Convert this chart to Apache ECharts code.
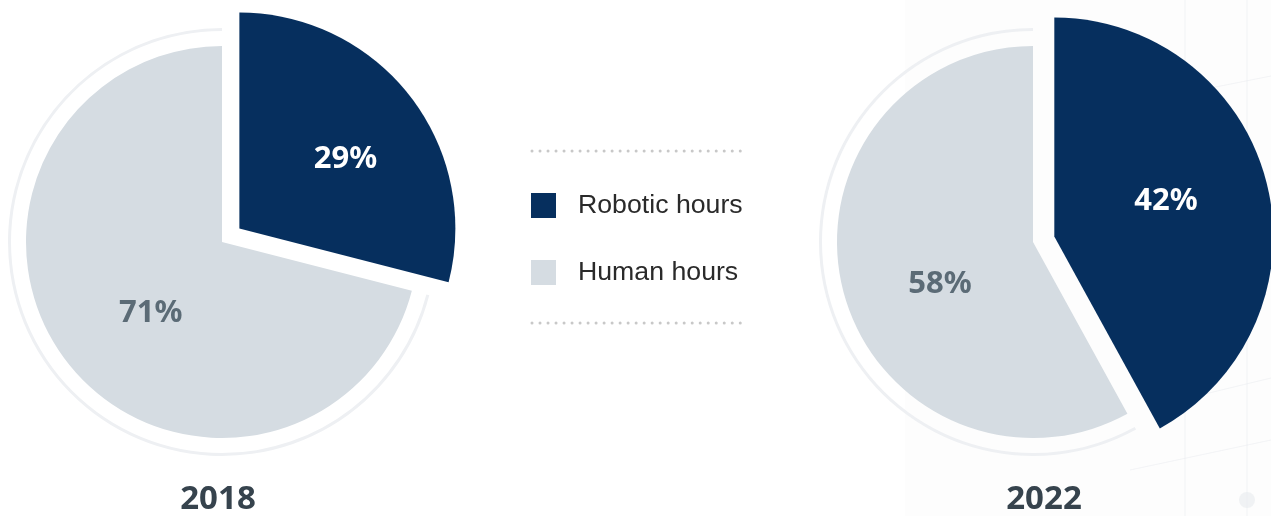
<!DOCTYPE html>
<html>
<head>
<meta charset="utf-8">
<script src="https://cdn.jsdelivr.net/npm/echarts@6/dist/echarts.min.js"></script>
<style>
html,body{margin:0;padding:0;background:#fff;}
#c{width:1271px;height:516px;}
</style>
</head>
<body>
<div id="c"></div>
<script>
const categories = ['Robotic hours', 'Human hours'];
const years = ['2018', '2022'];
const values2018 = [29, 71];
const values2022 = [42, 58];

const DARK = '#062f5e';
const GREY = '#d5dce2';
const RING = '#eef0f3';
const T = 'rgba(0,0,0,0)';
const FONT = '"Noto Sans", "DejaVu Sans", sans-serif';

// geometry per pie: center, dark slice radius, label placement tweaks
function pieSeries(values, center, darkR, lab) {
  const common = {type: 'pie', center: center, startAngle: 90, clockwise: true,
    silent: true, animation: false, avoidLabelOverlap: false,
    emphasis: {disabled: true}, labelLine: {show: false}};
  const items = (colors) => values.map((v, i) => ({name: categories[i], value: v, itemStyle: {color: colors[i]}}));
  function labelSeries(idx, radius, startAngle, color) {
    return Object.assign({}, common, {
      radius: [0, radius], startAngle: startAngle, z: 5,
      label: {show: true, position: 'inside', formatter: '{c}%', fontFamily: FONT,
        fontWeight: 'bold', fontSize: 31, color: color},
      data: values.map((v, i) => ({name: categories[i], value: v, itemStyle: {color: T},
        label: {show: i === idx}}))
    });
  }
  return [
    Object.assign({}, common, {
      radius: [211, 214], z: 1, label: {show: false},
      data: items([T, RING])
    }),
    Object.assign({}, common, {
      radius: [0, 196], z: 2, label: {show: false},
      data: items([T, GREY])
    }),
    Object.assign({}, common, {
      radius: [0, darkR], z: 3,
      selectedMode: 'single', selectedOffset: 22,
      label: {show: false},
      data: values.map((v, i) => ({name: categories[i], value: v, selected: i === 0,
        itemStyle: {color: i === 0 ? DARK : T}}))
    }),
    labelSeries(0, lab.darkR, lab.darkStart, '#ffffff'),
    labelSeries(1, lab.greyR, lab.greyStart, '#5b6b76')
  ];
}

const chart = echarts.init(document.getElementById('c'), null, {renderer: 'canvas'});

const dotStyle = {stroke: '#c8c8c8', lineWidth: 3, lineDash: [0.01, 8], lineCap: 'round'};
const faint = {stroke: 'rgba(228,231,235,0.4)', lineWidth: 1};

chart.setOption({
  animation: false,
  backgroundColor: '#ffffff',
  legend: {
    orient: 'vertical', left: 531, top: 192, padding: 0,
    itemWidth: 25, itemHeight: 25, itemGap: 40, icon: 'rect',
    selectedMode: false,
    textStyle: {fontFamily: '"Liberation Sans", Arial, sans-serif', fontSize: 26.7, color: '#2a2a2a',
      padding: [0, 0, 0, 17]},
    data: [
      {name: categories[0], itemStyle: {color: DARK}},
      {name: categories[1], itemStyle: {color: GREY}}
    ]
  },
  graphic: [
    {type: 'rect', z: -10, silent: true, shape: {x: 905, y: 0, width: 366, height: 516},
      style: {fill: 'rgba(246,247,249,0.25)'}},
    {type: 'line', z: -9, silent: true, shape: {x1: 1185, y1: 0, x2: 1185, y2: 516}, style: faint},
    {type: 'line', z: -9, silent: true, shape: {x1: 1247, y1: 0, x2: 1247, y2: 516}, style: faint},
    {type: 'line', z: -9, silent: true, shape: {x1: 1150, y1: 100, x2: 1271, y2: 76}, style: faint},
    {type: 'line', z: -9, silent: true, shape: {x1: 1180, y1: 400, x2: 1271, y2: 378}, style: faint},
    {type: 'line', z: -9, silent: true, shape: {x1: 1130, y1: 470, x2: 1271, y2: 440}, style: faint},
    {type: 'circle', z: -9, silent: true, shape: {cx: 1247, cy: 500, r: 8}, style: {fill: 'rgba(232,235,238,0.6)'}},
    {type: 'line', silent: true, shape: {x1: 532, y1: 151, x2: 748, y2: 151}, style: dotStyle},
    {type: 'line', silent: true, shape: {x1: 532, y1: 323, x2: 748, y2: 323}, style: dotStyle},
    {type: 'text', silent: true, x: 218, y: 500,
      style: {text: years[0], fontFamily: FONT, fontWeight: 'bold', fontSize: 33, fill: '#36434d',
        textAlign: 'center', textVerticalAlign: 'middle'}},
    {type: 'text', silent: true, x: 1044, y: 500,
      style: {text: years[1], fontFamily: FONT, fontWeight: 'bold', fontSize: 33, fill: '#36434d',
        textAlign: 'center', textVerticalAlign: 'middle'}}
  ],
  series: [].concat(
    pieSeries(values2018, [222, 242], 216, {darkR: 291, darkStart: 86.0, greyR: 196, greyStart: 97.3}),
    pieSeries(values2022, [1033, 242], 219, {darkR: 272, darkStart: 92.5, greyR: 198, greyStart: 99.8})
  )
});
</script>
</body>
</html>
